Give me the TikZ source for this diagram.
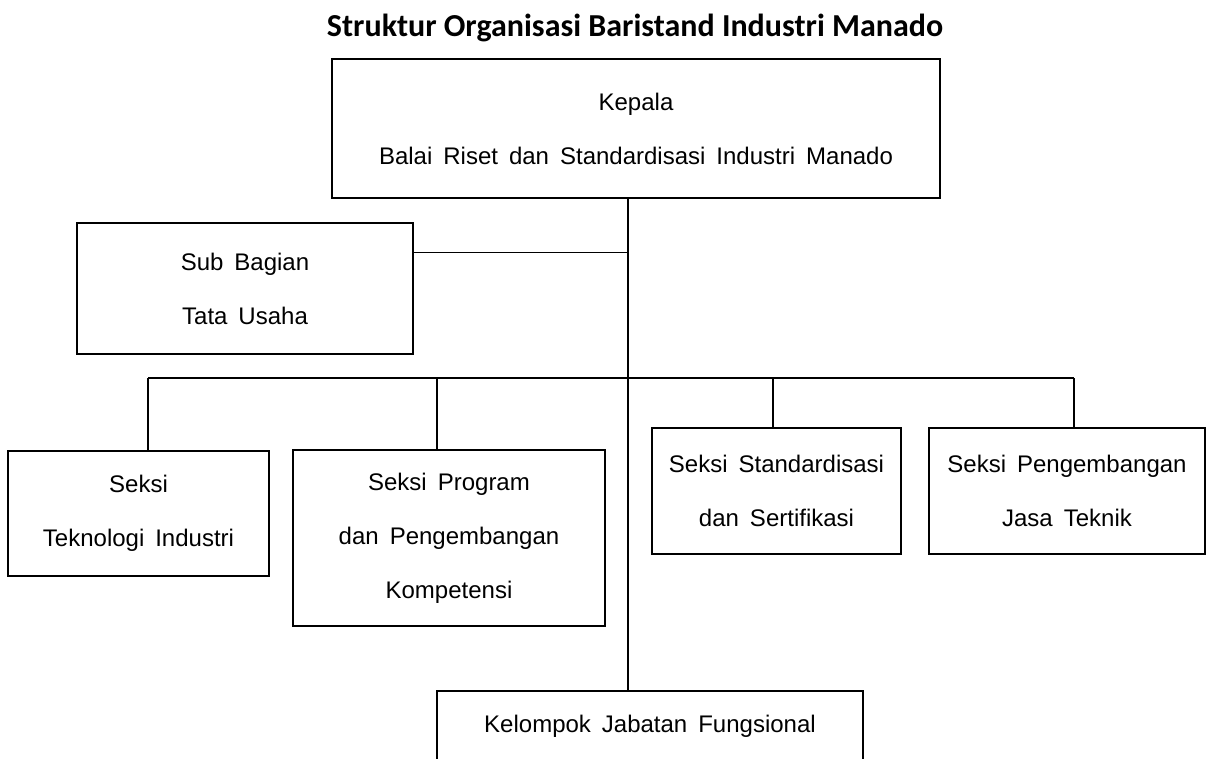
\documentclass[tikz,border=0pt]{standalone}
\usepackage{fontspec}
\setmainfont{Liberation Sans}[WordSpace=1.65]
\newfontfamily\titlefont{Carlito}

\begin{document}
\begin{tikzpicture}[x=1pt, y=-1pt,
  box/.style={draw, line width=1.6pt, align=center, inner sep=0pt,
    font=\fontsize{24}{54}\selectfont},
  link/.style={line width=1.3pt}]

  % Frame
  \useasboundingbox (0,0) rectangle (1206,758);
  \clip (0,0) rectangle (1206,758);

  % Title
  \node (title) at (635,28) {\titlefont\bfseries\fontsize{32}{36}\selectfont Struktur Organisasi Baristand Industri Manado};

  % Boxes
  \node[box, minimum width=608, minimum height=139] (kepala) at (636,128.5)
    {Kepala\\Balai Riset dan Standardisasi Industri Manado};
  \node[box, minimum width=336, minimum height=131] (tu) at (245,288.5)
    {Sub Bagian\\Tata Usaha};
  \node[box, minimum width=261, minimum height=125] (tek) at (138.5,513.5)
    {Seksi\\Teknologi Industri};
  \node[box, minimum width=312, minimum height=176] (prog) at (449,538)
    {Seksi Program\\dan Pengembangan\\Kompetensi};
  \node[box, minimum width=249, minimum height=126] (std) at (776.5,491)
    {Seksi Standardisasi\\dan Sertifikasi};
  \node[box, minimum width=276, minimum height=126] (jasa) at (1067,491)
    {Seksi Pengembangan\\Jasa Teknik};
  \node[box, minimum width=426, minimum height=70, anchor=north] (kjf) at (650,690)
    {Kelompok Jabatan Fungsional};

  % Spine and bus
  \coordinate (spine) at (628,198);
  \coordinate (busl) at (148,378);
  \coordinate (busr) at (1074,378);
  \coordinate (b2) at (437,378);
  \coordinate (b3) at (773,378);
  \draw[link] (spine) -- (spine |- kjf.north);
  \draw[link] ([yshift=-30pt]tu.north east) -- ([yshift=-30pt]tu.north east -| spine);
  \draw[link] (busl) -- (busr);

  % Drops
  \draw[link] (busl) -- (busl |- tek.north);
  \draw[link] (b2) -- (b2 |- prog.north);
  \draw[link] (b3) -- (b3 |- std.north);
  \draw[link] (busr) -- (busr |- jasa.north);

\end{tikzpicture}
\end{document}
